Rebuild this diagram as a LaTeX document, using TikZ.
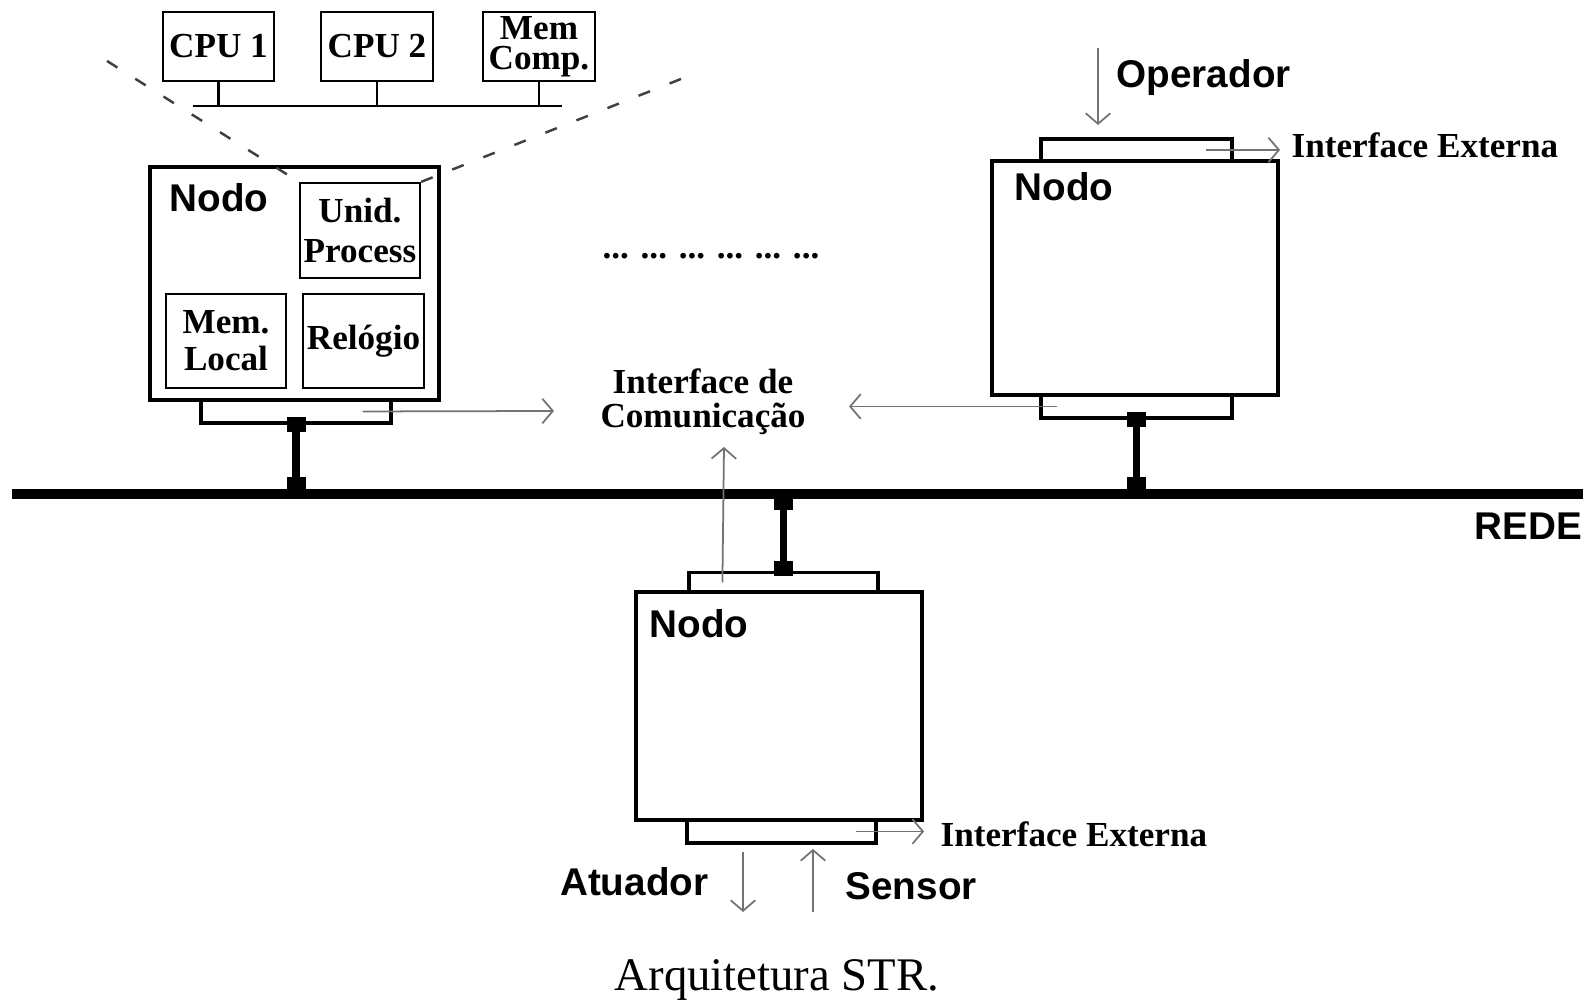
\documentclass[tikz,border=0pt]{standalone}
\usepackage{fontspec}
\setmainfont{Liberation Serif}
\setsansfont{Liberation Sans}
\usetikzlibrary{arrows.meta, calc, positioning}

\begin{document}
\begin{tikzpicture}[>={Straight Barb[length=3pt,width=7pt]},
    caixa/.style={draw, line width=0.6pt, inner sep=0pt, align=center,
        font=\bfseries\fontsize{10}{10.5}\selectfont},
    nodo/.style={draw, line width=1.2pt, inner sep=0pt},
    iface/.style={draw, line width=0.9pt, inner sep=0pt},
    seta/.style={->, black!55, line width=0.5pt},
    rotulo/.style={font=\sffamily\bfseries\fontsize{11}{13}\selectfont, inner sep=0pt},
    texto/.style={font=\bfseries\fontsize{10}{10}\selectfont, align=center, inner sep=0pt},
    ligacao/.style={line width=2pt},
    junta/.style={fill, minimum width=0.19cm, minimum height=0.15cm, inner sep=0pt},
    tracejado/.style={black!75, line width=0.7pt, dash pattern=on 3.5pt off 6pt}]
    \useasboundingbox (0,0) rectangle (15.93,10);

    % Rede
    \coordinate (redeE) at (0.12,5.06);
    \coordinate (redeD) at (15.83,5.06);
    \draw[line width=3pt] (redeE) -- (redeD);
    \node[rotulo, anchor=east] (rede) at (15.83,4.74) {REDE};

    % Detalhe da unidade de processamento
    \node[caixa, minimum width=1.11cm, minimum height=0.69cm] (cpu1) at (2.185,9.535) {CPU 1};
    \node[caixa, minimum width=1.12cm, minimum height=0.69cm] (cpu2) at (3.77,9.535) {CPU 2};
    \node[caixa, minimum width=1.12cm, minimum height=0.69cm,
        font=\bfseries\fontsize{10}{8.5}\selectfont] (memc) at (5.39,9.535) {Mem\\Comp.};
    \coordinate (barraE) at (1.93,8.94);
    \coordinate (barraD) at (5.62,8.94);
    \draw[line width=0.8pt] (barraE) -- (barraD);
    \foreach \c in {cpu1,cpu2,memc}
        \draw[line width=0.8pt] (\c.south) -- (\c.south |- barraE);

    % Nodo 1
    \node[iface, minimum width=1.90cm, minimum height=0.23cm] (if1) at (2.96,5.885) {};
    \node[nodo, minimum width=2.89cm, minimum height=2.33cm] (n1) at (2.945,7.165) {};
    \node[rotulo, below right=0.18cm and 0.21cm of n1.north west] (t1) {Nodo};
    \node[caixa, minimum width=1.20cm, minimum height=0.95cm,
        font=\bfseries\fontsize{10}{11.6}\selectfont] (unid) at (3.60,7.695) {Unid.\\Process};
    \node[caixa, minimum width=1.20cm, minimum height=0.94cm] (meml) at (2.26,6.59) {Mem.\\Local};
    \node[caixa, minimum width=1.21cm, minimum height=0.94cm] (relo) at (3.635,6.59) {Relógio};
    \coordinate (dE) at (1.07,9.39);
    \coordinate (dD) at (6.81,9.21);
    \draw[tracejado] (dE) -- (unid.north west);
    \draw[tracejado] (dD) -- (unid.north east);
    \draw[ligacao] (if1.south) -- (if1.south |- redeE);
    \node[junta] at (if1.south) {};
    \node[junta] at ($(if1.south |- redeE)+(0,0.09)$) {};

    % Interface de comunicacao
    \node[texto, font=\bfseries\fontsize{10}{9.6}\selectfont] (ic) at (7.03,5.98) {Interface de\\Comunicação};
    \node[texto] (pontos) at (7.11,7.44) {... ... ... ... ... ...};
    \coordinate (a1) at (5.54,5.89);
    \coordinate (a2) at (8.49,5.935);
    \coordinate (a3) at (7.24,5.53);

    % Nodo 2
    \node[iface, minimum width=1.91cm, minimum height=0.22cm] (if2) at (11.365,8.50) {};
    \node[iface, minimum width=1.91cm, minimum height=0.23cm] (if3) at (11.365,5.935) {};
    \node[nodo, minimum width=2.86cm, minimum height=2.34cm] (n2) at (11.35,7.22) {};
    \node[rotulo, below right=0.13cm and 0.24cm of n2.north west] (t2) {Nodo};
    \draw[ligacao] (if3.south) -- (if3.south |- redeE);
    \node[junta] at (if3.south) {};
    \node[junta] at ($(if3.south |- redeE)+(0,0.09)$) {};
    \coordinate (opS) at (10.98,9.52);
    \coordinate (opF) at (10.98,8.75);
    \node[rotulo, anchor=west] (oper) at (11.16,9.22) {Operador};
    \node[texto, anchor=west] (ie1) at (12.91,8.55) {Interface Externa};

    % Nodo 3
    \node[iface, minimum width=1.89cm, minimum height=0.20cm] (if4) at (7.835,4.175) {};
    \node[iface, minimum width=1.89cm, minimum height=0.23cm] (if5) at (7.815,1.685) {};
    \node[nodo, minimum width=2.86cm, minimum height=2.28cm] (n3) at (7.79,2.94) {};
    \node[rotulo, below right=0.19cm and 0.15cm of n3.north west] (t3) {Nodo};
    \draw[ligacao] (if4.north) -- (if4.north |- redeE);
    \node[junta] at ($(if4.north)+(0,0.02)$) {};
    \node[junta] at ($(if4.north |- redeE)+(0,-0.09)$) {};
    \node[texto, anchor=west] (ie2) at (9.40,1.66) {Interface Externa};
    \node[rotulo, anchor=east] (atu) at (7.09,1.18) {Atuador};
    \node[rotulo, anchor=west] (sen) at (8.45,1.14) {Sensor};
    \coordinate (atS) at (7.43,1.48);
    \coordinate (atF) at (7.43,0.88);
    \coordinate (seS) at (8.13,0.88);
    \coordinate (seF) at (8.13,1.51);

    % Setas
    \draw[seta] ($(if1.east)+(-0.30,0)$) -- (a1);
    \draw[seta] ($(if3.west)+(0.18,0)$) -- (a2);
    \draw[seta] ($(if4.west)+(0.35,0)$) -- (a3);
    \draw[seta] (opS) -- (opF);
    \draw[seta] ($(if2.east)+(-0.28,0)$) -- (n2.east |- if2.center);
    \draw[seta] ($(if5.east)+(-0.22,0)$) -- (n3.east |- if5.center);
    \draw[seta] (atS) -- (atF);
    \draw[seta] (seS) -- (seF);

    % Legenda
    \node[anchor=base, font=\fontsize{13.3}{15}\selectfont, inner sep=0pt] (leg) at (7.77,0.09) {Arquitetura STR.};
\end{tikzpicture}
\end{document}
